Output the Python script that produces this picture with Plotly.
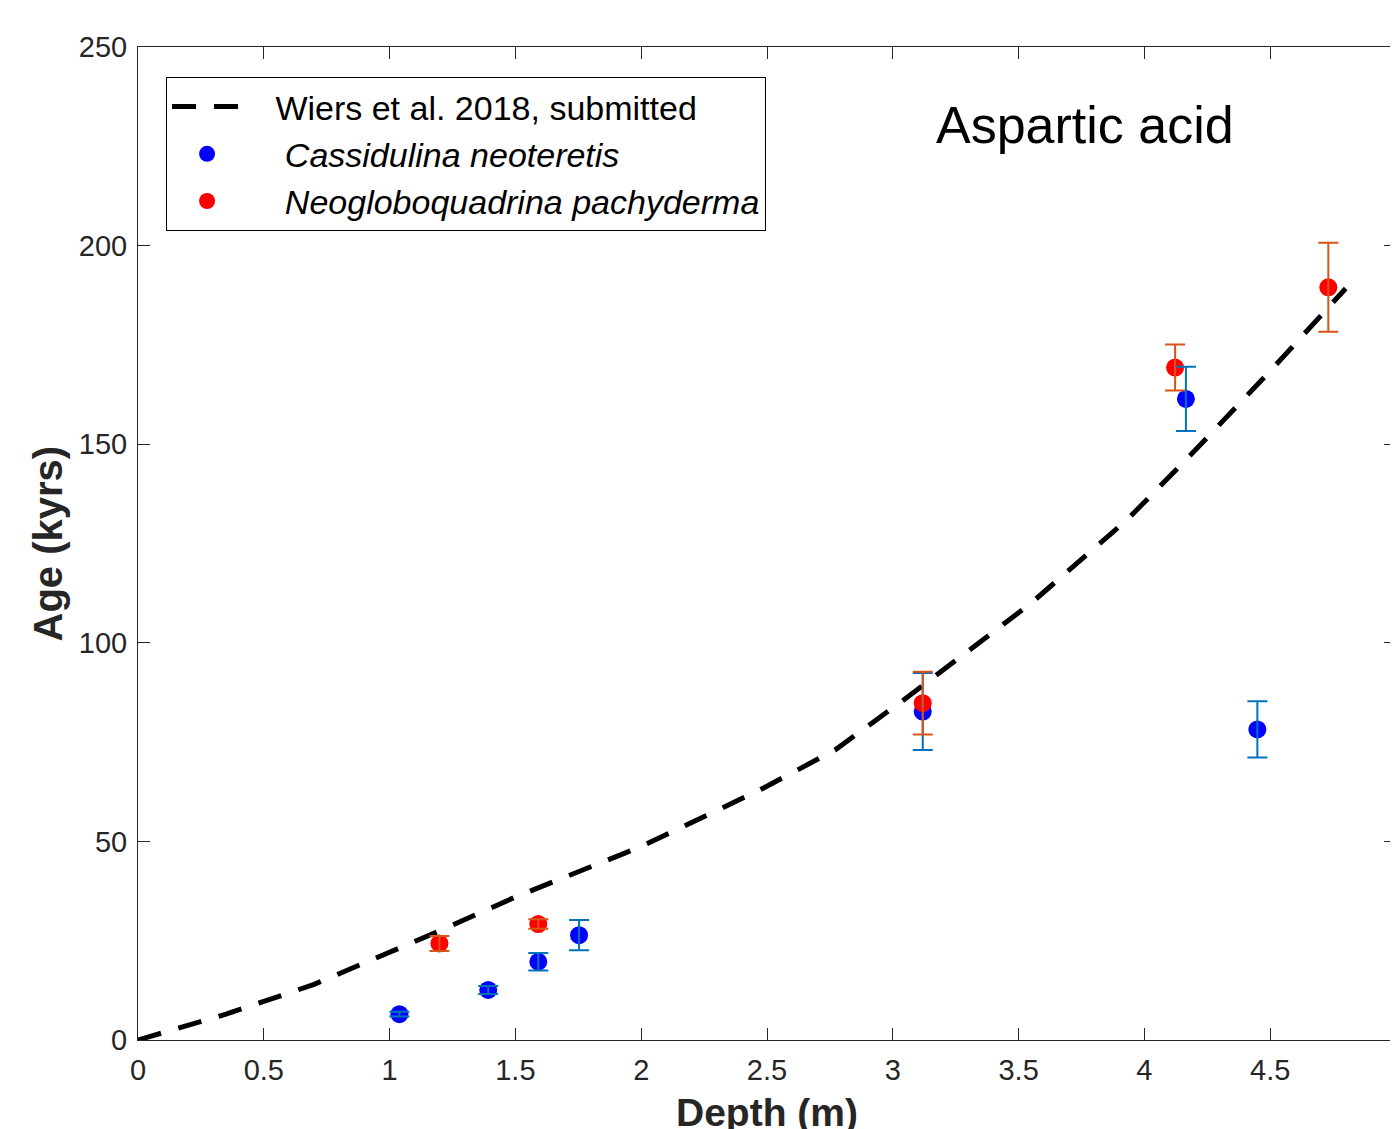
import plotly.graph_objects as go

# Reference age model (Wiers et al. 2018, submitted)
model_depth = [0, 0.35, 0.7, 1.2, 1.5, 2.0, 2.47, 2.77, 3.06, 3.27, 3.55, 3.93, 4.19, 4.51, 4.8]
model_age = [0, 6.5, 14, 27.5, 36, 48.7, 62.9, 73, 86.4, 96.5, 110, 130.9, 147.7, 169.1, 189.2]

# Cassidulina neoteretis
cn_depth = [1.039, 1.392, 1.591, 1.753, 3.119, 4.165, 4.449]
cn_age = [6.5, 12.6, 19.7, 26.4, 82.7, 161.4, 78.2]
cn_err = [0.6, 1.0, 2.2, 3.8, 9.7, 8.1, 7.1]

# Neogloboquadrina pachyderma
np_depth = [1.198, 1.591, 3.119, 4.122, 4.731]
np_age = [24.3, 29.2, 84.8, 169.3, 189.5]
np_err = [1.9, 1.2, 7.9, 5.8, 11.2]

x_ticks = [0, 0.5, 1, 1.5, 2, 2.5, 3, 3.5, 4, 4.5, 5]
x_ticklabels = ["0", "0.5", "1", "1.5", "2", "2.5", "3", "3.5", "4", "4.5", "5"]
y_ticks = [0, 50, 100, 150, 200, 250]

FONT = "Liberation Sans, Arial, Helvetica, sans-serif"
AXC = "#262626"
SP = "&nbsp;"

fig = go.Figure()

fig.add_trace(go.Scatter(
    x=model_depth, y=model_age, mode="lines",
    line=dict(color="black", width=5, dash="24px,18px"),
    name=SP * 3 + "Wiers et al. 2018, submitted",
))
fig.add_trace(go.Scatter(
    x=cn_depth, y=cn_age, mode="markers",
    marker=dict(color="#0000FF", size=18, line=dict(width=0)),
    name=SP * 4 + "<i>Cassidulina neoteretis</i>",
))
fig.add_trace(go.Scatter(
    x=np_depth, y=np_age, mode="markers",
    marker=dict(color="#FF0000", size=18, line=dict(width=0)),
    name=SP * 4 + "<i>Neogloboquadrina pachyderma</i>",
))
# error bars drawn on top of markers (as in the original)
fig.add_trace(go.Scatter(
    x=cn_depth, y=cn_age, mode="markers",
    marker=dict(color="rgba(0,0,0,0)", size=1),
    error_y=dict(type="data", array=cn_err, visible=True, color="#0072BD", thickness=2, width=10),
    showlegend=False, hoverinfo="skip",
))
fig.add_trace(go.Scatter(
    x=np_depth, y=np_age, mode="markers",
    marker=dict(color="rgba(0,0,0,0)", size=1),
    error_y=dict(type="data", array=np_err, visible=True, color="#D95319", thickness=2, width=10),
    showlegend=False, hoverinfo="skip",
))

fig.add_annotation(
    x=3.764, y=230.4, xref="x", yref="y", text="Aspartic acid", showarrow=False,
    font=dict(family=FONT, size=52, color="black"), xanchor="center", yanchor="middle",
)
fig.add_annotation(
    x=0.5, y=0, xref="paper", yref="paper", yshift=-72, text="<b>Depth (m)</b>",
    showarrow=False, font=dict(family=FONT, size=39, color=AXC), xanchor="center", yanchor="middle",
)
fig.add_annotation(
    x=0, y=0.5, xref="paper", yref="paper", xshift=-91, text="<b>Age (kyrs)</b>", textangle=-90,
    showarrow=False, font=dict(family=FONT, size=40, color=AXC), xanchor="center", yanchor="middle",
)

axis_common = dict(
    showline=True, linecolor=AXC, linewidth=1, mirror="ticks",
    ticks="inside", ticklen=12, tickwidth=1, tickcolor=AXC,
    showgrid=False, zeroline=False, ticklabelstandoff=4,
    tickfont=dict(family=FONT, size=29, color=AXC),
)

# page body adds an 8px offset; sizes/margins compensate so the plot area sits at
# x 138..1396, y 47..1040 in the window
fig.update_layout(
    width=1390, height=1121,
    margin=dict(l=130, r=2, t=39, b=89),
    paper_bgcolor="white", plot_bgcolor="white",
    font=dict(family=FONT),
    xaxis=dict(range=[0, 5], tickvals=x_ticks, ticktext=x_ticklabels, **axis_common),
    yaxis=dict(range=[0, 250], tickvals=y_ticks, **axis_common),
    legend=dict(
        x=0.0223, y=0.9698, xanchor="left", yanchor="top",
        bordercolor="black", borderwidth=1, bgcolor="white",
        font=dict(family=FONT, size=34, color="black"),
        itemwidth=70, tracegroupgap=0,
    ),
    showlegend=True,
)

fig.write_html("out.html")
